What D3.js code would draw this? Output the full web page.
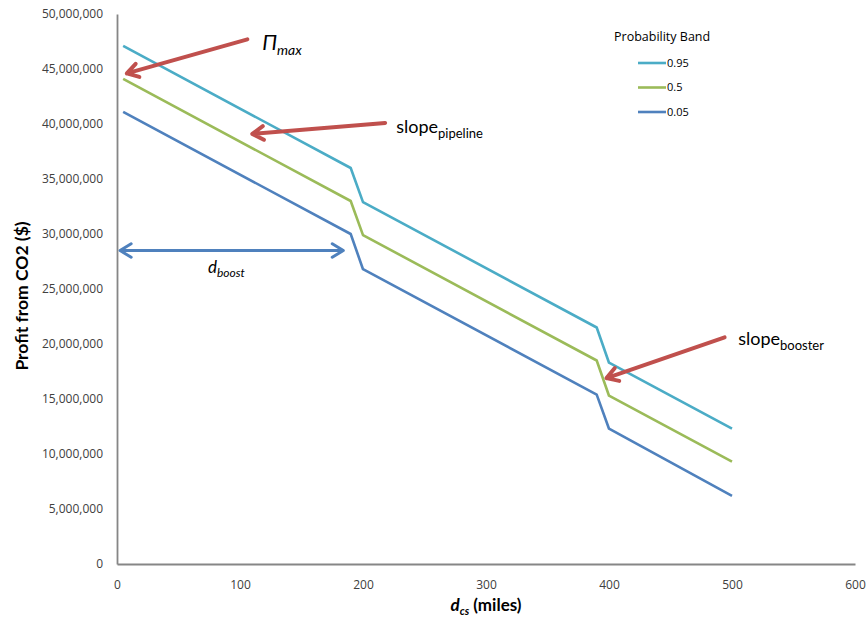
<!DOCTYPE html>
<html>
<head>
<meta charset="utf-8">
<script src="https://cdn.jsdelivr.net/npm/d3@7"></script>
<style>
  body { margin: 0; background: #fff; }
  svg { display: block; }
</style>
</head>
<body>
<svg id="chart"></svg>
<script>
// distance from source (miles)
var distances = [5, 190, 200, 390, 400, 500];
var bandNames = ["0.95", "0.5", "0.05"];
var band95 = [47100000, 36000000, 32900000, 21500000, 18300000, 12300000];
var band50 = [44100000, 33000000, 29900000, 18500000, 15300000, 9300000];
var band05 = [41100000, 30000000, 26800000, 15400000, 12300000, 6200000];
var bandColors = ["#4bacc6", "#9bbb59", "#4f81bd"];
var xTicks = [0, 100, 200, 300, 400, 500, 600];
var yTicks = [0, 5e6, 10e6, 15e6, 20e6, 25e6, 30e6, 35e6, 40e6, 45e6, 50e6];

var svg_width = 868;
var svg_height = 630;
var margin = {top: 14, right: 13, bottom: 66, left: 117};
var width = svg_width - margin.left - margin.right;
var height = svg_height - margin.top - margin.bottom;

var svg = d3.select("#chart")
  .attr("width", svg_width)
  .attr("height", svg_height);

var g = svg.append("g")
  .attr("transform", "translate(" + margin.left + "," + margin.top + ")");

var x = d3.scaleLinear().domain([0, 600]).range([0, width]);
var y = d3.scaleLinear().domain([0, 50e6]).range([height, 0]);

var fmt = d3.format(",");

// axes
var xAxis = g.append("g")
  .attr("transform", "translate(0," + height + ")")
  .call(d3.axisBottom(x).tickValues(xTicks).tickSize(0).tickPadding(16).tickFormat(d3.format("d")));
var yAxis = g.append("g")
  .call(d3.axisLeft(y).tickValues(yTicks).tickSize(0).tickPadding(14).tickFormat(fmt));

[xAxis, yAxis].forEach(function(a) {
  a.select(".domain").attr("stroke", "#868686").attr("stroke-width", 1.8);
  a.selectAll("text")
    .attr("fill", "#404040")
    .style("font-family", "'Open Sans', sans-serif")
    .style("font-size", "12px");
});
yAxis.selectAll(".tick text").attr("dy", "0.32em");

// series
var series = [band95, band50, band05];
var line = d3.line()
  .x(function(d, i) { return x(distances[i]); })
  .y(function(d) { return y(d); });

series.forEach(function(s, i) {
  g.append("path")
    .datum(s)
    .attr("fill", "none")
    .attr("stroke", bandColors[i])
    .attr("stroke-width", 2.6)
    .attr("stroke-linejoin", "round")
    .attr("d", line);
});

// axis titles
svg.append("text")
  .attr("transform", "translate(28,296) rotate(-90)")
  .attr("text-anchor", "middle")
  .style("font-family", "Lato, 'Open Sans', sans-serif")
  .style("font-weight", "bold")
  .style("font-size", "17.5px")
  .attr("fill", "#000")
  .text("Profit from CO2 ($)");

var xt = svg.append("text")
  .attr("x", 486)
  .attr("y", 611)
  .attr("text-anchor", "middle")
  .style("font-family", "Lato, 'Open Sans', sans-serif")
  .style("font-weight", "bold")
  .style("font-size", "17px")
  .attr("fill", "#000");
xt.append("tspan").style("font-style", "italic").text("d");
xt.append("tspan").attr("dy", 4).style("font-style", "italic").style("font-size", "11px").text("cs");
xt.append("tspan").attr("dy", -4).text(" (miles)");

// legend
var legend = svg.append("g").attr("transform", "translate(614,0)");
legend.append("text")
  .attr("x", 0).attr("y", 41)
  .style("font-family", "'Open Sans', sans-serif")
  .style("font-size", "12.5px")
  .attr("fill", "#000")
  .text("Probability Band");
bandNames.forEach(function(name, i) {
  var yy = 63 + i * 24.5;
  legend.append("line")
    .attr("x1", 24).attr("x2", 52).attr("y1", yy).attr("y2", yy)
    .attr("stroke", bandColors[i]).attr("stroke-width", 2.6);
  legend.append("text")
    .attr("x", 53).attr("y", yy).attr("dy", "0.35em")
    .style("font-family", "'Open Sans', sans-serif")
    .style("font-size", "11px")
    .attr("fill", "#000")
    .text(name);
});

// annotation arrows (data units)
var red = "#c0504d";
var blue = "#4f81bd";
var arrows = [
  {from: [106, 47.7e6], to: [8, 44.6e6], color: red, both: false},
  {from: [218, 40.1e6], to: [110, 39.1e6], color: red, both: false},
  {from: [494, 20.6e6], to: [398, 16.9e6], color: red, both: false},
  {from: [2.5, 28.5e6], to: [184, 28.5e6], color: blue, both: true}
];

function head(x1, y1, x2, y2) {
  var a = Math.atan2(y2 - y1, x2 - x1);
  var len = 13, spread = 0.55;
  var p1 = [x2 - len * Math.cos(a - spread), y2 - len * Math.sin(a - spread)];
  var p2 = [x2 - len * Math.cos(a + spread), y2 - len * Math.sin(a + spread)];
  return "M" + p1 + "L" + x2 + "," + y2 + "L" + p2;
}

arrows.forEach(function(d) {
  var x1 = x(d.from[0]), y1 = y(d.from[1]), x2 = x(d.to[0]), y2 = y(d.to[1]);
  var p = "M" + x1 + "," + y1 + "L" + x2 + "," + y2 + head(x1, y1, x2, y2);
  if (d.both) p += head(x2, y2, x1, y1);
  g.append("path")
    .attr("d", p)
    .attr("fill", "none")
    .attr("stroke", d.color)
    .attr("stroke-width", d.both ? 3 : 4)
    .attr("stroke-linecap", "round")
    .attr("stroke-linejoin", "round");
});

// annotation labels
function label(px, py, main, sub, italic, mainSize, subSize) {
  var t = g.append("text")
    .attr("x", x(px)).attr("y", y(py))
    .style("font-family", "Lato, 'Open Sans', sans-serif")
    .attr("fill", "#000");
  t.append("tspan")
    .style("font-size", mainSize + "px")
    .style("font-style", italic ? "italic" : "normal")
    .text(main);
  t.append("tspan")
    .attr("dy", 5)
    .style("font-size", subSize + "px")
    .style("font-style", italic ? "italic" : "normal")
    .text(sub);
}
label(118, 46.7e6, "\u03a0", "max", true, 21, 14);
label(227, 39.2e6, "slope", "pipeline", false, 18, 13);
label(505, 19.9e6, "slope", "booster", false, 18, 13);

var db = g.append("text")
  .attr("x", x(74)).attr("y", y(26.5e6))
  .style("font-family", "Lato, 'Open Sans', sans-serif")
  .style("font-style", "italic")
  .attr("fill", "#000");
db.append("tspan").style("font-size", "17px").text("d");
db.append("tspan").attr("dy", 4).style("font-size", "12px").text("boost");
</script>
</body>
</html>
